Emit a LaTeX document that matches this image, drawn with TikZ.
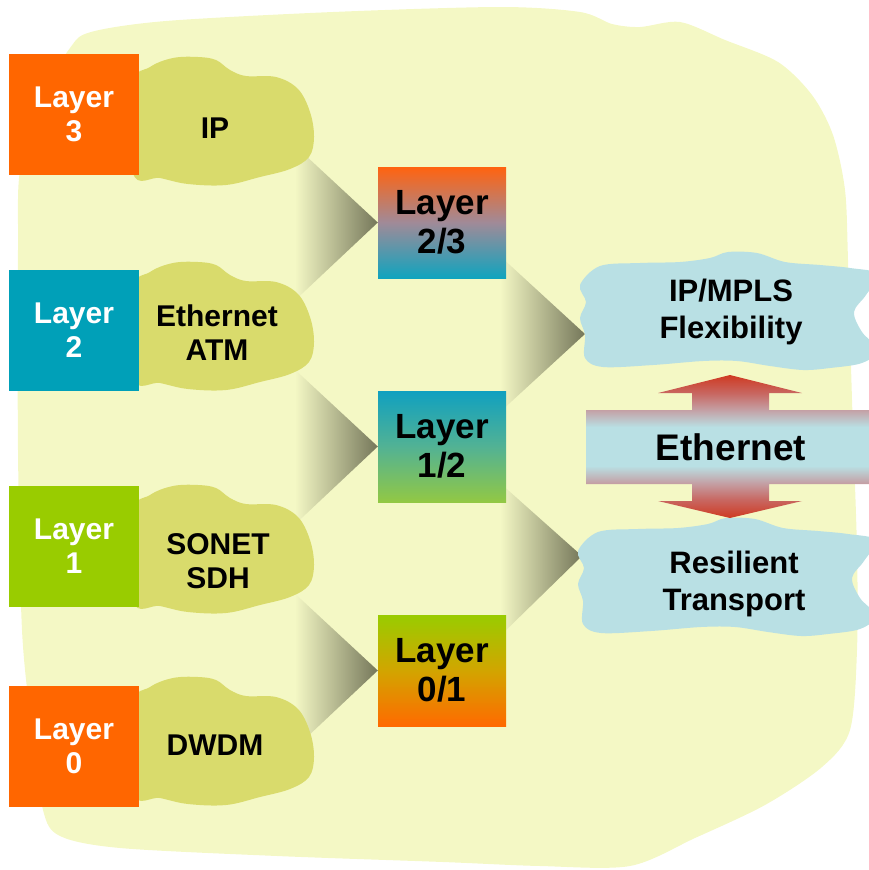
\documentclass[tikz,border=0pt]{standalone}
\usepackage{fontspec}
\setmainfont{Liberation Sans}
\usetikzlibrary{calc}

\definecolor{blobyellow}{HTML}{F4F8C5}
\definecolor{layerorange}{HTML}{FF6600}
\definecolor{layerteal}{HTML}{00A0B8}
\definecolor{layergreen}{HTML}{99CC00}
\definecolor{cloudolive}{HTML}{D9DB6C}
\definecolor{cloudblue}{HTML}{B9E0E4}
\definecolor{funneldark}{HTML}{75775A}
\definecolor{arrowred}{HTML}{CF3A22}
\definecolor{arrowpink}{RGB}{200,102,96}
\definecolor{arrowmauve}{RGB}{196,160,165}
\definecolor{mixtopA}{HTML}{FF6310}
\definecolor{mixmidA}{HTML}{A08A98}
\definecolor{mixbotA}{HTML}{10A4BE}
\definecolor{mixtopB}{HTML}{10A0C0}
\definecolor{mixmidB}{HTML}{52B294}
\definecolor{mixbotB}{HTML}{92C844}
\definecolor{mixtopC}{HTML}{99CC00}
\definecolor{mixmidC}{HTML}{D2A500}
\definecolor{mixbotC}{HTML}{FF6A00}

% red tips fading to a pale blue band across the Ethernet bar
\pgfdeclareverticalshading{ethershade}{100bp}{
  color(0bp)=(arrowred); color(25bp)=(arrowred);
  color(31.3bp)=(arrowpink); color(37.2bp)=(arrowmauve);
  color(43.2bp)=(cloudblue); color(56.8bp)=(cloudblue);
  color(62.8bp)=(arrowmauve); color(68.7bp)=(arrowpink);
  color(75bp)=(arrowred); color(100bp)=(arrowred)}

\pgfdeclarelayer{backdrop}
\pgfdeclarelayer{funnels}
\pgfsetlayers{backdrop,funnels,main}

\tikzset{
  layerbox/.style={rectangle, minimum width=130pt, minimum height=121pt,
    inner sep=0pt, fill=#1, text=white, align=center,
    font=\bfseries\fontsize{30}{34}\selectfont},
  mixbox/.style={rectangle, minimum width=128pt, minimum height=111pt,
    inner sep=0pt, align=center, font=\bfseries\fontsize{35}{39}\selectfont},
  cloudtext/.style={inner sep=0pt, align=center,
    font=\bfseries\fontsize{30}{34}\selectfont},
  funnel/.style={left color=blobyellow, right color=funneldark},
  pics/olivecloud/.style={code={
    \fill[cloudolive] plot[smooth cycle, tension=0.6] coordinates {
      (-5,28) (12,10) (35,1) (60,0) (78,3) (92,13) (108,19) (138,20)
      (160,32) (172,55) (176,80) (171,100) (152,112) (122,120) (88,128)
      (50,127) (22,121) (-5,116)};
  }},
  pics/bluecloud/.style={code={
    \fill[cloudblue] plot[smooth cycle, tension=0.55] coordinates {
      (10,35) (30,16) (70,13) (110,12) (140,8) (158,2) (187,3) (215,12)
      (250,15) (280,18) (308,24) (296,45) (284,62) (292,82) (308,100)
      (292,113) (260,118) (233,120) (200,116) (167,111) (133,111)
      (83,115) (33,117) (15,108) (15,85) (10,68) (16,52)};
  }},
}

\begin{document}
\begin{tikzpicture}[x=1pt, y=-1pt]
\path[use as bounding box] (0,0) rectangle (869,870);
\clip (0,0) rectangle (869,870);

% pale backdrop
\begin{pgfonlayer}{backdrop}
\fill[blobyellow] plot[smooth cycle, tension=0.5] coordinates {
  (91,32) (166,21) (333,12) (500,7) (580,12) (612,24) (640,27) (680,22)
  (725,40) (778,62) (812,95) (833,135) (845,190) (848,260) (852,400)
  (857,550) (857,650) (850,730) (822,767) (765,805) (695,838) (630,866)
  (540,866) (443,862) (277,856) (120,848) (60,836) (43,810) (32,730)
  (22,630) (18,450) (18,250) (20,170) (40,100) (70,48)};
\end{pgfonlayer}

% technology clouds
\pic at (138,57)  {olivecloud};
\pic at (138,262) {olivecloud};
\pic at (138,485) {olivecloud};
\pic at (138,677) {olivecloud};
\pic at (570,250) {bluecloud};
\pic at (568,516) {bluecloud};

% layer boxes
\node[layerbox=layerorange] (l3) at (74,114)   {Layer\\3};
\node[layerbox=layerteal]   (l2) at (74,330)   {Layer\\2};
\node[layerbox=layergreen]  (l1) at (74,546.5) {Layer\\1};
\node[layerbox=layerorange] (l0) at (74,746.5) {Layer\\0};

\node[cloudtext] (ip)    at (215,128) {IP};
\node[cloudtext] (ethc)  at (217,333) {Ethernet\\ATM};
\node[cloudtext] (sonet) at (218,561) {SONET\\SDH};
\node[cloudtext] (dwdm)  at (215,745) {DWDM};

% combined layers (middle color must follow top and bottom)
\node[mixbox, top color=mixtopA, bottom color=mixbotA, middle color=mixmidA]
  (l23) at (442,222.5) {Layer\\2/3};
\node[mixbox, top color=mixtopB, bottom color=mixbotB, middle color=mixmidB]
  (l12) at (442,446.5) {Layer\\1/2};
\node[mixbox, top color=mixtopC, bottom color=mixbotC, middle color=mixmidC]
  (l01) at (442,670.5) {Layer\\0/1};

% service clouds
\coordinate (mplsin) at (585,334);
\coordinate (transin) at (582,556);
\node[cloudtext, font=\bfseries\fontsize{31}{37}\selectfont]
  (mpls) at (731,312) {IP/MPLS\\Flexibility};
\node[cloudtext, font=\bfseries\fontsize{31}{37}\selectfont]
  (trans) at (734,584) {Resilient\\Transport};

% Ethernet double arrow
\shade[shading=ethershade]
  (730,375) -- (802,393) -- (769,393) -- (769,410) -- (875,410)
  -- (875,484) -- (769,484) -- (769,501) -- (802,501) -- (730,518)
  -- (658,501) -- (692,501) -- (692,484) -- (586,484) -- (586,410)
  -- (692,410) -- (692,393) -- (658,393) -- cycle;
\node[inner sep=0pt, font=\bfseries\fontsize{37}{40}\selectfont]
  (eth) at (731,447) {Ethernet};

% funnels feeding the combined layers
\begin{pgfonlayer}{funnels}
\shade[funnel] ($(l23.west)+(-83,-77)$) -- (l23.west) -- ($(l23.west)+(-83,78)$) -- cycle;
\shade[funnel] ($(l12.west)+(-83,-77)$) -- (l12.west) -- ($(l12.west)+(-83,78)$) -- cycle;
\shade[funnel] ($(l01.west)+(-83,-77)$) -- (l01.west) -- ($(l01.west)+(-83,78)$) -- cycle;
\shade[funnel] ($(mplsin)+(-85,-78)$) -- (mplsin) -- ($(mplsin)+(-85,78)$) -- cycle;
\shade[funnel] ($(transin)+(-82,-73)$) -- (transin) -- ($(transin)+(-82,80)$) -- cycle;
\end{pgfonlayer}
\end{tikzpicture}
\end{document}
